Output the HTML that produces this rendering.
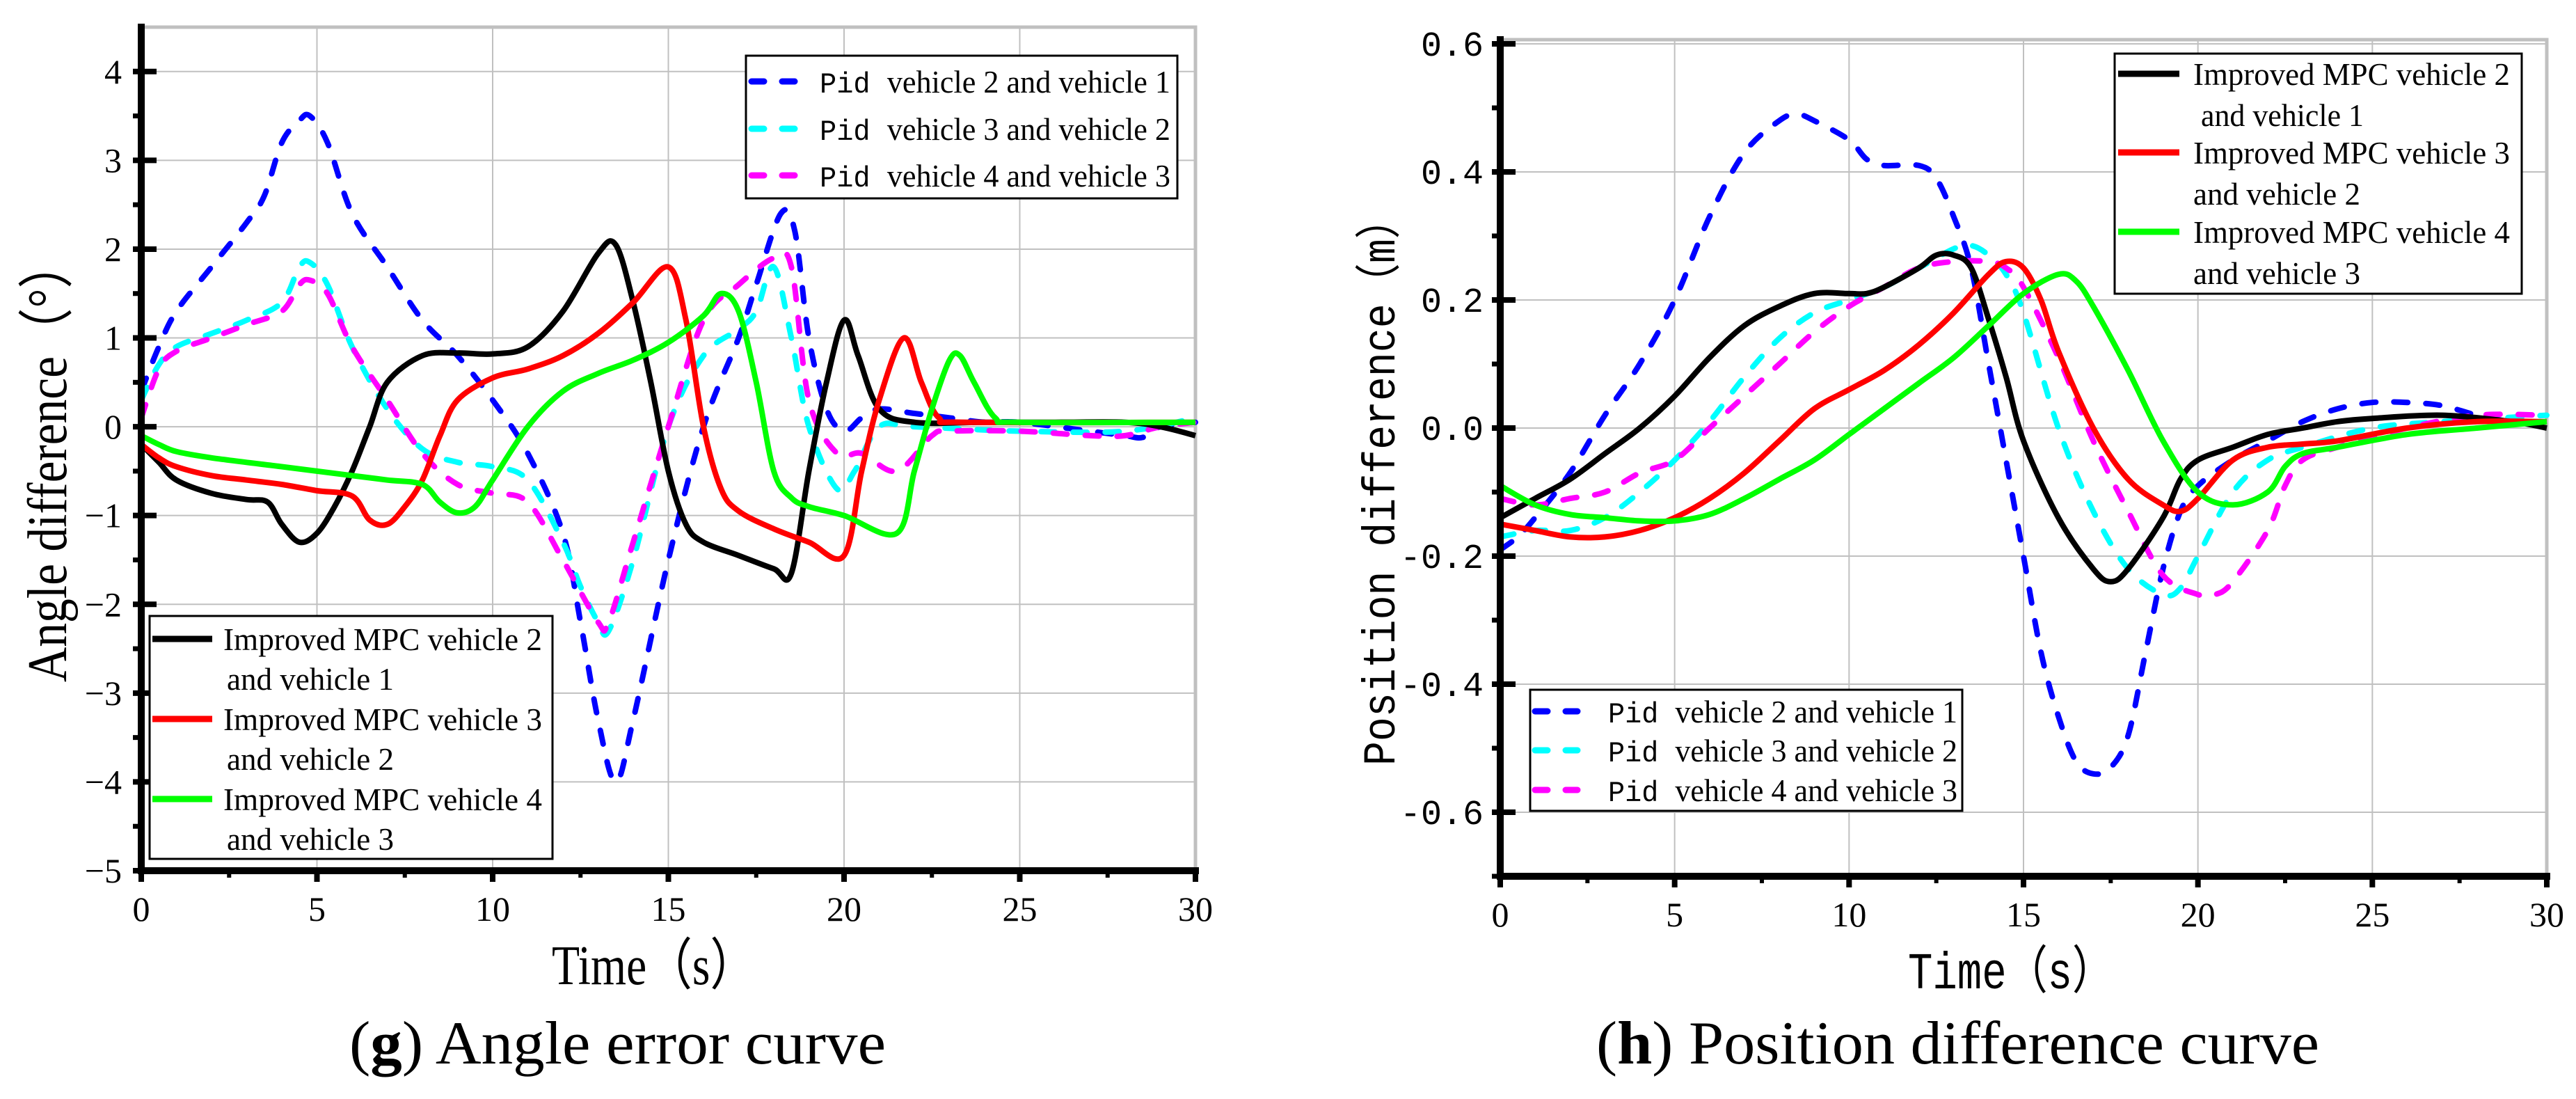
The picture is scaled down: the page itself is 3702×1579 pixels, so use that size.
<!DOCTYPE html>
<html><head><meta charset="utf-8"><style>
html,body{margin:0;padding:0;background:#fff;}
svg{display:block;}
</style></head><body>
<svg id="fig" xmlns="http://www.w3.org/2000/svg" width="3702" height="1579" viewBox="0 0 3702 1579">
<rect width="3702" height="1579" fill="#fff"/>
<g id="chartG"></g>
<g id="chartH"></g>
</svg>
<script>
// ---------- data: angle error chart (g) ----------
const gPidBlueT=[0,0.5,1,2,3,3.5,4,4.5,4.8,5.3,6,7,8,9,10,11,12,12.5,13,13.5,14,15,16,17,17.5,18.2,18.6,19,19.5,20,20.5,21,22,23,24,25,27,28,28.5,29,30];
const gPidBlueV=[0.4,0.9,1.3,1.8,2.3,2.6,3.2,3.45,3.5,3.2,2.4,1.8,1.2,0.8,0.3,-0.3,-1.2,-2.2,-3.3,-4.0,-3.3,-1.5,0.0,1.0,1.6,2.4,2.2,1.0,0.2,-0.05,0.1,0.2,0.15,0.1,0.05,0.05,-0.05,-0.1,-0.12,0.0,0.05];
const gPidCyanT=[0,0.5,1,2,3,4,4.5,4.8,5.3,6,7,8,9,10,11,12,12.5,13,13.3,14,15,16,17,17.5,18,18.5,19,19.8,20.3,21,22,25,28,30];
const gPidCyanV=[0.3,0.7,0.9,1.05,1.2,1.4,1.8,1.85,1.6,0.9,0.2,-0.25,-0.4,-0.45,-0.6,-1.3,-1.8,-2.2,-2.3,-1.5,0.0,0.8,1.1,1.3,1.8,1.0,0.0,-0.7,-0.5,0.0,0.0,-0.05,-0.05,0.1];
const gPidMagT=[0,0.5,1,2,3,4,4.5,4.8,5.3,6,7,8,9,10,11,12,13,13.3,14,15,16,17,18,18.5,19,19.8,20.5,21.5,22.5,23,25,27,28,29,30];
const gPidMagV=[0.1,0.65,0.85,1.0,1.15,1.3,1.6,1.65,1.5,0.9,0.3,-0.3,-0.65,-0.75,-0.85,-1.5,-2.2,-2.2,-1.3,0.0,1.2,1.6,1.9,1.8,0.3,-0.3,-0.3,-0.5,-0.1,-0.05,-0.05,-0.1,-0.1,0.0,0.05];
const gMpcBlackT=[0,0.5,1,2,3,3.6,4,4.5,5,5.5,6,6.5,7,8,9,10,11,12,13,13.5,14,14.5,15,15.5,16,17,18,18.5,19,19.5,20,20.4,21,22,24,26,28,29,30];
const gMpcBlackV=[-0.2,-0.4,-0.6,-0.75,-0.82,-0.85,-1.1,-1.3,-1.2,-0.9,-0.5,0.0,0.5,0.8,0.83,0.82,0.9,1.3,1.95,2.05,1.4,0.5,-0.5,-1.1,-1.3,-1.45,-1.6,-1.65,-0.5,0.5,1.2,0.8,0.2,0.05,0.05,0.05,0.05,0.0,-0.1];
const gMpcRedT=[0,0.5,1,2,3,4,5,6,6.5,7,7.5,8,8.5,9,10,11,12,13,14,15,15.5,16,16.5,17,18,19,20,20.5,21,21.7,22.2,22.7,23.5,30];
const gMpcRedV=[-0.2,-0.35,-0.45,-0.55,-0.6,-0.65,-0.72,-0.78,-1.05,-1.1,-0.9,-0.6,-0.1,0.3,0.55,0.65,0.8,1.05,1.4,1.8,1.2,0.0,-0.7,-0.95,-1.15,-1.3,-1.45,-0.5,0.3,1.0,0.5,0.1,0.05,0.05];
const gMpcGreenT=[0,0.5,1,2,4,6,7,8,8.5,9,9.5,10,11,12,13,14,15,16,16.5,17,17.5,18,18.5,19,20,21.5,22,22.5,23,23.3,23.7,24.3,25,30];
const gMpcGreenV=[-0.1,-0.2,-0.28,-0.35,-0.45,-0.55,-0.6,-0.65,-0.85,-0.97,-0.9,-0.6,0.0,0.4,0.6,0.75,0.95,1.25,1.5,1.3,0.5,-0.5,-0.8,-0.9,-1.0,-1.2,-0.5,0.2,0.75,0.8,0.5,0.1,0.05,0.05];
const gYTicks=[4,3,2,1,0,-1,-2,-3,-4,-5];
const gXTicks=[0,5,10,15,20,25,30];

// ---------- data: position difference chart (h) ----------
const hPidBlueT=[0,0.5,1,2,3,4,5,6,7,8,8.5,9,10,10.5,11,12,12.5,13,13.5,14,14.5,15,15.5,16,16.5,17,17.5,18,18.5,19,19.5,20,21,22,23,24,25,26,27,28,29,30];
const hPidBlueV=[-0.19,-0.17,-0.14,-0.07,0.02,0.1,0.2,0.33,0.43,0.48,0.49,0.48,0.45,0.42,0.41,0.41,0.39,0.33,0.25,0.1,-0.05,-0.2,-0.35,-0.45,-0.52,-0.54,-0.53,-0.48,-0.35,-0.22,-0.13,-0.09,-0.05,-0.02,0.01,0.03,0.04,0.04,0.035,0.02,0.01,0.01];
const hPidCyanT=[0,1,2,3,4,5,6,7,8,9,10,11,12,13,13.5,14,14.5,15,16,17,18,19,19.5,20,21,22,23,25,27,30];
const hPidCyanV=[-0.17,-0.16,-0.16,-0.14,-0.1,-0.05,0.01,0.08,0.14,0.18,0.2,0.22,0.25,0.28,0.285,0.27,0.24,0.18,0.0,-0.13,-0.22,-0.26,-0.25,-0.2,-0.1,-0.05,-0.03,0.0,0.01,0.02];
const hPidMagT=[0,1,2,3,4,5,6,7,8,9,10,11,12,13,14,14.5,15,16,17,18,19,20,20.5,21,22,22.5,23,24,26,28,30];
const hPidMagV=[-0.11,-0.12,-0.11,-0.1,-0.07,-0.05,0.0,0.05,0.1,0.15,0.19,0.22,0.25,0.26,0.26,0.25,0.22,0.11,-0.02,-0.13,-0.23,-0.26,-0.26,-0.24,-0.16,-0.09,-0.05,-0.03,0.0,0.02,0.02];
const hMpcBlackT=[0,1,2,3,4,5,6,7,8,9,10,10.5,11,12,12.5,13,13.5,14,14.5,15,16,17,17.5,18,19,19.5,20,21,22,23,24,25,27,29,30];
const hMpcBlackV=[-0.14,-0.11,-0.08,-0.04,0.0,0.05,0.11,0.16,0.19,0.21,0.21,0.21,0.22,0.25,0.27,0.27,0.25,0.17,0.08,-0.02,-0.14,-0.22,-0.24,-0.22,-0.14,-0.08,-0.05,-0.03,-0.01,0.0,0.01,0.015,0.02,0.01,0.0];
const hMpcRedT=[0,1,2,3,4,5,6,7,8,9,10,11,12,13,14,14.5,15,15.5,16,17,18,19,19.5,20,21,22,23,24,26,28,30];
const hMpcRedV=[-0.15,-0.16,-0.17,-0.17,-0.16,-0.14,-0.11,-0.07,-0.02,0.03,0.06,0.09,0.13,0.18,0.24,0.26,0.25,0.2,0.12,0.0,-0.08,-0.12,-0.13,-0.11,-0.05,-0.03,-0.025,-0.02,0.0,0.01,0.01];
const hMpcGreenT=[0,1,2,3,4,5,6,7,8,9,10,11,12,13,14,15,16,16.5,17,18,19,20,21,22,22.5,23,24,26,28,30];
const hMpcGreenV=[-0.09,-0.12,-0.135,-0.14,-0.145,-0.145,-0.135,-0.11,-0.08,-0.05,-0.01,0.03,0.07,0.11,0.16,0.21,0.24,0.23,0.19,0.09,-0.02,-0.1,-0.12,-0.1,-0.06,-0.04,-0.03,-0.01,0.0,0.01];
const hYTicks=[0.6,0.4,0.2,0.0,-0.2,-0.4,-0.6];
const hYTickLabels=["0.6","0.4","0.2","0.0","-0.2","-0.4","-0.6"];
const hXTicks=[0,5,10,15,20,25,30];

const NS="http://www.w3.org/2000/svg";
function mk(parent,tag,attrs,text){
  const e=document.createElementNS(NS,tag);
  for(const k in attrs) e.setAttribute(k,attrs[k]);
  if(text!==undefined) e.textContent=text;
  parent.appendChild(e);
  return e;
}
function smoothPath(pts){
  let d="M"+pts[0][0].toFixed(1)+","+pts[0][1].toFixed(1);
  for(let i=0;i<pts.length-1;i++){
    const p0=pts[Math.max(0,i-1)],p1=pts[i],p2=pts[i+1],p3=pts[Math.min(pts.length-1,i+2)];
    const c1=[p1[0]+(p2[0]-p0[0])/6,p1[1]+(p2[1]-p0[1])/6];
    const c2=[p2[0]-(p3[0]-p1[0])/6,p2[1]-(p3[1]-p1[1])/6];
    d+="C"+c1[0].toFixed(1)+","+c1[1].toFixed(1)+" "+c2[0].toFixed(1)+","+c2[1].toFixed(1)+" "+p2[0].toFixed(1)+","+p2[1].toFixed(1);
  }
  return d;
}
const SERIF='"Liberation Serif", serif';
const MONO='"Liberation Mono", monospace';

function drawChart(g,cfg){
  const {x0,x1,yTop,yBot,vTop,vBot}=cfg;
  const X=t=>x0+(t-0)/30*(x1-x0);
  const Y=v=>yTop+(vTop-v)/(vTop-vBot)*(yBot-yTop);
  cfg.xTicks.forEach(t=>{ if(t>0&&t<30){
    const l=mk(g,'line',{x1:X(t),x2:X(t),y1:yTop,y2:yBot,stroke:'#c0c0c0','stroke-width':2});
    
    
  }});
  cfg.yTicks.forEach(v=>{ if(Math.abs(Y(v)-yBot)>3 && Math.abs(Y(v)-yTop)>3){
    const l=mk(g,'line',{x1:x0,x2:x1,y1:Y(v),y2:Y(v),stroke:'#c0c0c0','stroke-width':2});
    
    
  }});
  const fr=mk(g,'path',{d:`M${x0},${yTop}H${x1}V${yBot}`,fill:'none',stroke:'#c0c0c0','stroke-width':5});
  
  
  cfg.series.forEach(s=>{
    const pts=s.t.map((t,i)=>[X(t),Y(s.v[i])]);
    const p=mk(g,'path',{d:smoothPath(pts),fill:'none',stroke:s.color,'stroke-width':8,'stroke-linecap':s.dash?'round':'butt','stroke-linejoin':'round'});
    if(s.dash){p.setAttribute('stroke-dasharray','20 26');}
    
    
  });
  const ax=mk(g,'path',{d:`M${x0},${yTop}V${yBot}H${x1}`,fill:'none',stroke:'#000','stroke-width':10,'stroke-linecap':'square'});
  
  
  cfg.xTicks.forEach((t,i)=>{
    const tk=mk(g,'line',{x1:X(t),x2:X(t),y1:yBot,y2:yBot+16,stroke:'#000','stroke-width':8});
    
    
    if(i<cfg.xTicks.length-1){
      const m=mk(g,'line',{x1:X(t+2.5),x2:X(t+2.5),y1:yBot,y2:yBot+10,stroke:'#000','stroke-width':6});
      
      
    }
    const lb=mk(g,'text',{x:X(t),y:yBot+cfg.xLabelDy,'text-anchor':'middle','font-family':cfg.xTickFont,'font-size':50},String(t));
    
    
  });
  cfg.yTicks.forEach((v,i)=>{
    const tk=mk(g,'line',{x1:x0-12,x2:x0+22,y1:Y(v),y2:Y(v),stroke:'#000','stroke-width':8});
    
    
    const mv=v-cfg.yStep/2;
    if(mv>=vBot-1e-9){
      const m=mk(g,'line',{x1:x0-12,x2:x0,y1:Y(mv),y2:Y(mv),stroke:'#000','stroke-width':7});
      
      
    }
    const lb=mk(g,'text',{x:x0-cfg.yLabelDx,y:Y(v)+17,'text-anchor':'end','font-family':cfg.tickFont,'font-size':50},cfg.yLabels[i]);
    
    
  });
}

const gS=document.getElementById('chartG');
drawChart(gS,{x0:203,x1:1718,yTop:39,yBot:1251,vTop:4.5,vBot:-5,xTicks:gXTicks,yTicks:gYTicks,yStep:1,
  yLabels:gYTicks.map(v=>v<0?'\u2212'+(-v):String(v)),tickFont:SERIF,xTickFont:SERIF,xLabelDy:72,yLabelDx:28,
  series:[
    {t:gPidBlueT,v:gPidBlueV,color:'#0000ff',dash:true,name:'pid-2-1-line'},
    {t:gPidCyanT,v:gPidCyanV,color:'#00ffff',dash:true,name:'pid-3-2-line'},
    {t:gPidMagT,v:gPidMagV,color:'#ff00ff',dash:true,name:'pid-4-3-line'},
    {t:gMpcBlackT,v:gMpcBlackV,color:'#000000',dash:false,name:'mpc-2-1-line'},
    {t:gMpcRedT,v:gMpcRedV,color:'#ff0000',dash:false,name:'mpc-3-2-line'},
    {t:gMpcGreenT,v:gMpcGreenV,color:'#00ff00',dash:false,name:'mpc-4-3-line'}
  ]});
const hS=document.getElementById('chartH');
drawChart(hS,{x0:2156,x1:3660,yTop:57,yBot:1259,vTop:0.6065,vBot:-0.7,xTicks:hXTicks,yTicks:hYTicks,yStep:0.2,
  yLabels:hYTickLabels,tickFont:MONO,xTickFont:SERIF,xLabelDy:72,yLabelDx:24,
  series:[
    {t:hPidBlueT,v:hPidBlueV,color:'#0000ff',dash:true,name:'pid-2-1-line'},
    {t:hPidCyanT,v:hPidCyanV,color:'#00ffff',dash:true,name:'pid-3-2-line'},
    {t:hPidMagT,v:hPidMagV,color:'#ff00ff',dash:true,name:'pid-4-3-line'},
    {t:hMpcBlackT,v:hMpcBlackV,color:'#000000',dash:false,name:'mpc-2-1-line'},
    {t:hMpcRedT,v:hMpcRedV,color:'#ff0000',dash:false,name:'mpc-3-2-line'},
    {t:hMpcGreenT,v:hMpcGreenV,color:'#00ff00',dash:false,name:'mpc-4-3-line'}
  ]});

function legend(g,box,items){
  const lg=mk(g,'g',{});
  
  
  const r=mk(lg,'rect',{x:box[0],y:box[1],width:box[2]-box[0],height:box[3]-box[1],fill:'#fff',stroke:'#000','stroke-width':3});
  
  
  items.forEach(it=>{
    const e=mk(lg,'g',{});
    
    
    const l=mk(e,'line',{x1:it.lx[0],x2:it.lx[1],y1:it.y,y2:it.y,stroke:it.color,'stroke-width':9,'stroke-linecap':it.dash?'round':'butt'});
    if(it.dash) l.setAttribute('stroke-dasharray','18 26');
    it.lines.forEach((ln,k)=>{
      const t=mk(e,'text',{x:ln.x,y:it.y+16+k*it.gap,'font-family':SERIF,'font-size':46,textLength:ln.w,lengthAdjust:'spacingAndGlyphs'});
      if(ln.pid){
        const a=mk(t,'tspan',{'font-family':MONO,'font-size':42},'Pid ');
        
        
        mk(t,'tspan',{},ln.s);
      } else t.textContent=ln.s;
      
      
    });
  });
}
legend(gS,[1072,80,1692,285],[
  {y:117,lx:[1080,1143],color:'#0000ff',dash:true,gap:0,lines:[{x:1178,w:504,pid:true,s:'vehicle 2 and vehicle 1'}]},
  {y:185,lx:[1080,1143],color:'#00ffff',dash:true,gap:0,lines:[{x:1178,w:504,pid:true,s:'vehicle 3 and vehicle 2'}]},
  {y:252,lx:[1080,1143],color:'#ff00ff',dash:true,gap:0,lines:[{x:1178,w:504,pid:true,s:'vehicle 4 and vehicle 3'}]}
]);
legend(gS,[215,885,794,1234],[
  {y:918,lx:[219,305],color:'#000',dash:false,gap:57,lines:[{x:321,w:458,s:'Improved MPC vehicle 2'},{x:326,w:240,s:'and vehicle 1'}]},
  {y:1033,lx:[219,305],color:'#ff0000',dash:false,gap:57,lines:[{x:321,w:458,s:'Improved MPC vehicle 3'},{x:326,w:240,s:'and vehicle 2'}]},
  {y:1148,lx:[219,305],color:'#00ff00',dash:false,gap:57,lines:[{x:321,w:458,s:'Improved MPC vehicle 4'},{x:326,w:240,s:'and vehicle 3'}]}
]);
legend(hS,[3039,77,3624,422],[
  {y:106,lx:[3044,3132],color:'#000',dash:false,gap:59,lines:[{x:3152,w:455,s:'Improved MPC vehicle 2'},{x:3163,w:234,s:'and vehicle 1'}]},
  {y:219,lx:[3044,3132],color:'#ff0000',dash:false,gap:59,lines:[{x:3152,w:455,s:'Improved MPC vehicle 3'},{x:3152,w:240,s:'and vehicle 2'}]},
  {y:333,lx:[3044,3132],color:'#00ff00',dash:false,gap:59,lines:[{x:3152,w:455,s:'Improved MPC vehicle 4'},{x:3152,w:240,s:'and vehicle 3'}]}
]);
legend(hS,[2199,991,2820,1165],[
  {y:1022,lx:[2206,2267],color:'#0000ff',dash:true,gap:0,lines:[{x:2311,w:502,pid:true,s:'vehicle 2 and vehicle 1'}]},
  {y:1078,lx:[2206,2267],color:'#00ffff',dash:true,gap:0,lines:[{x:2311,w:502,pid:true,s:'vehicle 3 and vehicle 2'}]},
  {y:1135,lx:[2206,2267],color:'#ff00ff',dash:true,gap:0,lines:[{x:2311,w:502,pid:true,s:'vehicle 4 and vehicle 3'}]}
]);

function txt(g,attrs,s,name){
  const t=mk(g,'text',attrs,s);
  
  
  return t;
}
txt(gS,{x:0,y:0,transform:'translate(95,980) rotate(-90)','font-family':SERIF,'font-size':80,textLength:635,lengthAdjust:'spacingAndGlyphs'},'Angle difference（°）','y-axis-title');
txt(gS,{x:793,y:1414,'font-family':SERIF,'font-size':80,textLength:293,lengthAdjust:'spacingAndGlyphs'},'Time（s）','x-axis-title');
const capG=txt(gS,{x:502,y:1528,'font-family':SERIF,'font-size':88,textLength:771,lengthAdjust:'spacingAndGlyphs'},'','caption-g');
mk(capG,'tspan',{},'(');mk(capG,'tspan',{'font-weight':'bold'},'g');mk(capG,'tspan',{},') Angle error curve');
txt(hS,{x:0,y:0,transform:'translate(2004,1100) rotate(-90)','font-family':MONO,'font-size':66,textLength:815,lengthAdjust:'spacingAndGlyphs'},'Position difference（m）','y-axis-title');
txt(hS,{x:2742,y:1420,'font-family':MONO,'font-size':74,textLength:295,lengthAdjust:'spacingAndGlyphs'},'Time（s）','x-axis-title');
const capH=txt(hS,{x:2294,y:1528,'font-family':SERIF,'font-size':88,textLength:1039,lengthAdjust:'spacingAndGlyphs'},'','caption-h');
mk(capH,'tspan',{},'(');mk(capH,'tspan',{'font-weight':'bold'},'h');mk(capH,'tspan',{},') Position difference curve');
</script>
</body></html>
